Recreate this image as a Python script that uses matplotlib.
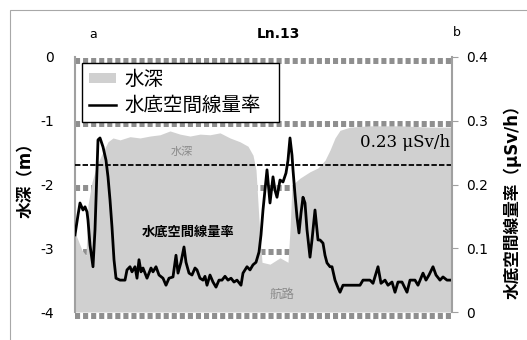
import matplotlib
matplotlib.use('Agg')

import matplotlib.pyplot as plt
import matplotlib.transforms as mtransforms
from matplotlib.patches import Patch, Rectangle
from matplotlib.lines import Line2D

plt.rcParams['font.family'] = ['DejaVu Sans', 'Noto Sans CJK JP']

# water depth profile along the survey line (m, negative = below surface)
depth_dist = [0, 3, 7, 11, 13, 17, 22, 28, 33, 38, 45, 55, 65, 75, 85, 95, 105, 115,
              125, 135, 145, 155, 165, 173, 178, 181, 184, 187, 195, 205, 213, 215,
              217, 225, 235, 243, 250, 255, 260, 265, 275, 295, 325, 355, 377]
depth = [-2.75, -2.87, -3.03, -3.11, -2.32, -1.96, -1.69, -1.49, -1.33, -1.27, -1.30,
         -1.25, -1.27, -1.24, -1.22, -1.16, -1.21, -1.24, -1.21, -1.22, -1.19, -1.27,
         -1.33, -1.40, -1.54, -1.77, -2.56, -3.22, -3.25, -3.15, -3.22, -2.71, -2.01,
         -1.90, -1.80, -1.74, -1.62, -1.46, -1.27, -1.15, -1.10, -1.08, -1.08, -1.10,
         -1.10]

# bottom-water air dose rate (uSv/h)
dose_dist = [0, 3, 5, 8, 10, 12, 13, 15, 18, 20, 22, 23, 25, 28, 31, 33, 35, 37, 39,
             41, 45, 50, 52, 55, 57, 60, 62, 64, 66, 68, 72, 76, 78, 81, 84, 88, 91,
             94, 98, 101, 103, 106, 109, 111, 114, 117, 120, 122, 125, 128, 130, 132,
             135, 138, 141, 144, 147, 150, 153, 156, 159, 162, 166, 168, 172, 175, 178,
             181, 184, 186, 188, 190, 192, 195, 198, 200, 202, 205, 208, 211, 213, 215,
             217, 218, 220, 222, 224, 226, 228, 230, 232, 235, 237, 240, 243, 245, 248,
             250, 252, 255, 257, 260, 263, 265, 268, 275, 285, 288, 295, 298, 303, 306,
             310, 313, 317, 320, 323, 327, 332, 335, 340, 343, 348, 351, 354, 358, 361,
             365, 368, 372, 377]
dose = [0.121, 0.152, 0.171, 0.160, 0.165, 0.157, 0.144, 0.105, 0.071, 0.129, 0.223,
        0.270, 0.273, 0.259, 0.238, 0.212, 0.176, 0.133, 0.082, 0.053, 0.050, 0.050,
        0.066, 0.071, 0.063, 0.071, 0.053, 0.082, 0.063, 0.069, 0.053, 0.069, 0.063,
        0.071, 0.058, 0.053, 0.042, 0.053, 0.055, 0.089, 0.061, 0.078, 0.102, 0.078,
        0.061, 0.058, 0.069, 0.066, 0.053, 0.050, 0.056, 0.042, 0.058, 0.047, 0.039,
        0.050, 0.050, 0.056, 0.050, 0.053, 0.047, 0.050, 0.042, 0.061, 0.071, 0.066,
        0.074, 0.078, 0.094, 0.121, 0.160, 0.191, 0.223, 0.171, 0.212, 0.191, 0.180,
        0.207, 0.204, 0.218, 0.238, 0.273, 0.246, 0.223, 0.184, 0.149, 0.124, 0.155,
        0.180, 0.171, 0.129, 0.086, 0.113, 0.160, 0.113, 0.113, 0.108, 0.089, 0.077,
        0.071, 0.071, 0.050, 0.038, 0.031, 0.042, 0.042, 0.042, 0.050, 0.050, 0.045,
        0.071, 0.045, 0.050, 0.042, 0.047, 0.031, 0.047, 0.047, 0.031, 0.050, 0.050,
        0.042, 0.061, 0.050, 0.058, 0.071, 0.058, 0.050, 0.055, 0.050, 0.050]

threshold = 0.23
depth_ticks = [0, -1, -2, -3, -4]
dose_ticks = [0, 0.1, 0.2, 0.3, 0.4]

fill_color = '#d0d0d0'
grid_color = '#8f8f8f'

fig = plt.figure(figsize=(5.27, 3.40), dpi=100)
ax = fig.add_axes([75 / 527, 28 / 340, 377 / 527, 255 / 340])
ax2 = ax.twinx()

# outer chart frame
fig.patches.append(Rectangle((10 / 527, -0.1), 1.0, 1.1 - 10 / 340, transform=fig.transFigure,
                             fill=False, edgecolor='#a8a8a8', lw=0.8))

# thick dashed gridlines, nudged slightly below the tick
shift = mtransforms.ScaledTranslation(0, -3.5 / 100, fig.dpi_scale_trans)
for t in depth_ticks:
    ax.plot([0, 1], [t, t], color=grid_color, lw=4.3, dashes=(0.85, 0.5), zorder=1,
            solid_capstyle='butt', dash_capstyle='butt',
            transform=ax.get_yaxis_transform() + shift, clip_on=False)

ax.fill_between(depth_dist, depth, -4, color=fill_color, lw=0, zorder=2)
ax.set_xlim(0, 377)
ax.set_ylim(-4, 0)
ax.set_yticks(depth_ticks)
ax.set_yticklabels(['0', '-1', '-2', '-3', '-4'])
ax.set_xticks([])
ax.tick_params(axis='y', length=0, pad=15, labelsize=10)
for s in ['top', 'bottom', 'right']:
    ax.spines[s].set_visible(False)
ax.spines['left'].set_color('#a0a0a0')
ax.spines['left'].set_linewidth(1.5)

ax.text(107, -1.49, '水深', color='#8a8a8a', fontsize=8, ha='center', va='center', zorder=3)
ax.text(113, -2.75, '水底空間線量率', color='black', fontsize=9.5, fontweight='bold',
        ha='center', va='center', zorder=3)
ax.text(207, -3.72, '航路', color='#8a8a8a', fontsize=9, ha='center', va='center', zorder=3)

ax2.axhline(threshold, color='black', lw=1.3, dashes=(3, 1.2))
ax2.plot(dose_dist, dose, color='black', lw=2.0)
ax2.set_ylim(0, 0.4)
ax2.set_yticks(dose_ticks)
ax2.set_yticklabels(['0', '0.1', '0.2', '0.3', '0.4'])
ax2.tick_params(axis='y', length=4, color='#a0a0a0', pad=6, labelsize=10)
for s in ['top', 'bottom', 'left']:
    ax2.spines[s].set_visible(False)
ax2.spines['right'].set_color('#a0a0a0')
ax2.spines['right'].set_linewidth(1.5)
ax2.text(375, 0.259, '0.23 μSv/h', family='DejaVu Serif', fontsize=12,
         ha='right', va='baseline')

handles = [Patch(facecolor=fill_color, edgecolor='none'),
           Line2D([], [], color='black', lw=1.8)]
leg = ax2.legend(handles, ['水深', '水底空間線量率'], loc='upper left',
                 bbox_to_anchor=(0.019, 0.776, 0.522, 0.2), mode='expand',
                 fontsize=14, fancybox=False, framealpha=1, edgecolor='black',
                 borderpad=0.35, handlelength=1.4, handleheight=0.45,
                 handletextpad=0.4, labelspacing=0.35, borderaxespad=0)
leg.get_frame().set_linewidth(1.0)

fig.text(93 / 527, 1 - 34 / 340, 'a', fontsize=9, ha='center', va='center')
fig.text(278 / 527, 1 - 34 / 340, 'Ln.13', fontsize=10, fontweight='bold',
         ha='center', va='center')
fig.text(457 / 527, 1 - 33 / 340, 'b', fontsize=9, ha='center', va='center')
fig.text(26 / 527, 1 - 176 / 340, '水深（m）', fontsize=12, fontweight='bold',
         rotation=90, ha='center', va='center')
fig.text(512 / 527, 1 - 198 / 340, '水底空間線量率（μSv/h）', fontsize=12,
         fontweight='bold', rotation=90, ha='center', va='center')

fig.savefig('out.png', dpi=100, facecolor='white')
